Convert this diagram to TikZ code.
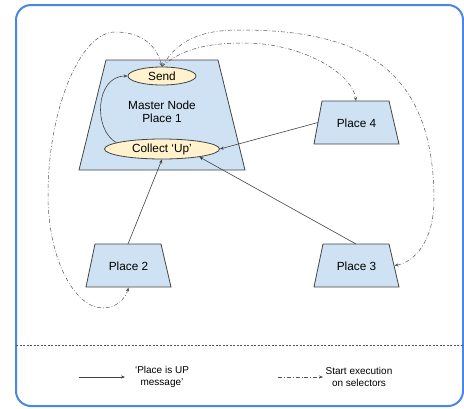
\documentclass[tikz,border=0pt]{standalone}
\usepackage{fontspec}
\setmainfont{Liberation Sans}
\usetikzlibrary{shapes.geometric,arrows.meta}
\definecolor{frameblue}{HTML}{4A86E8}
\definecolor{placefill}{HTML}{CFE2F3}
\definecolor{ellfill}{HTML}{FFF2CC}
\definecolor{edgegray}{HTML}{434343}
\definecolor{dashgray}{HTML}{555555}
\tikzset{
  trap/.style={draw=edgegray, fill=placefill, line width=0.8pt, line join=miter},
  label/.style={font=\fontsize{11.8}{13}\selectfont, align=center, inner sep=0pt},
  ellnode/.style={ellipse, draw=edgegray, fill=ellfill, line width=0.8pt, inner sep=0pt,
    font=\fontsize{11.8}{13}\selectfont},
  msg/.style={draw=edgegray, line width=0.6pt, -{Stealth[length=4pt,width=3.2pt]}},
  exec/.style={draw=dashgray, line width=0.5pt,
    dash pattern=on 4pt off 2pt on 0.8pt off 2pt, -{Stealth[length=4pt,width=3.2pt]}},
  legendtext/.style={font=\fontsize{10}{12}\selectfont, align=center, inner sep=0pt}
}
\begin{document}
\begin{tikzpicture}[x=1pt,y=-1pt]
\useasboundingbox (0,0) rectangle (464,408);
\draw[frameblue, line width=2pt, rounded corners=15pt] (16,5) rectangle (463,406);

% trapezoid shapes
\path[trap] (106,60) -- (218,60) -- (245,170) -- (79,170) -- cycle;
\path[trap] (322,101) -- (389,101) -- (399,144) -- (314,144) -- cycle;
\path[trap] (95,244) -- (161,244) -- (171,287) -- (86,287) -- cycle;
\path[trap] (323,244) -- (389,244) -- (399,287) -- (314,287) -- cycle;

% anchor points on the trapezoids
\coordinate (p4l) at (318,122.5);
\coordinate (p4n) at (356,101);
\coordinate (p2n) at (128,244);
\coordinate (p2s) at (128.5,287.5);
\coordinate (p3n) at (356,244);
\coordinate (p3r) at (394.5,265.5);

\node[label] (master) at (162,112) {Master Node\\Place 1};
\node[label] (p4) at (356.5,123) {Place 4};
\node[label] (p2) at (128.5,266) {Place 2};
\node[label] (p3) at (356.5,266) {Place 3};
\node[ellnode, minimum width=68pt, minimum height=18pt] (send) at (162,76) {Send};
\node[ellnode, minimum width=115pt, minimum height=20pt] (collect) at (162,149) {Collect `Up'};

% solid messages
\draw[msg] (p4l) -- (collect.east);
\draw[msg] (p2n) -- (collect.south);
\draw[msg] (p3n) -- (collect.-12);
\draw[msg] (collect.172) .. controls (93,130) and (95,76) .. (send.west);

% dash-dot execution
\draw[exec, {Stealth[length=4pt,width=3.2pt]}-{Stealth[length=4pt,width=3.2pt]}]
  (send.north) .. controls (155,40) and (135,32) .. (115,32)
  .. controls (80,32) and (48,110) .. (48,195)
  .. controls (48,260) and (75,308) .. (103,308)
  .. controls (115,308) and (125,300) .. (p2s);
\draw[exec] (send.north) .. controls (185,45) and (220,43) .. (245,43)
  .. controls (300,43) and (352,72) .. (p4n);
\draw[exec] (send.north) .. controls (180,35) and (210,30) .. (240,30)
  .. controls (350,30) and (434,60) .. (434,200)
  .. controls (434,240) and (415,262) .. (p3r);

% legend
\coordinate (sepl) at (16,345);
\coordinate (sepr) at (464,345);
\draw[dashgray, line width=0.5pt, dash pattern=on 2pt off 1.5pt] (sepl) -- (sepr);
\coordinate (l1a) at (79,377);
\coordinate (l1b) at (125,377);
\draw[msg] (l1a) -- (l1b);
\node[legendtext] (l1t) at (162,377) {`Place is UP\\message'};
\coordinate (l2a) at (278,377);
\coordinate (l2b) at (323,377);
\draw[exec] (l2a) -- (l2b);
\node[legendtext] (l2t) at (359,377) {Start execution\\on selectors};
\end{tikzpicture}
\end{document}
